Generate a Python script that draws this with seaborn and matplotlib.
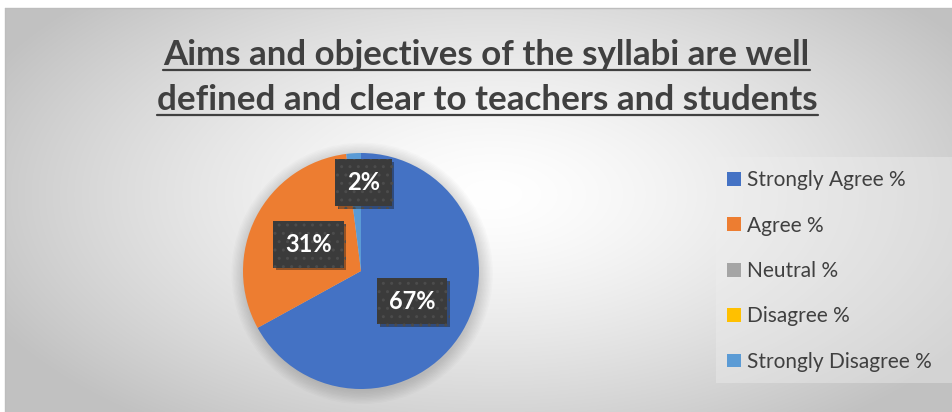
import numpy as np
import matplotlib.pyplot as plt
import matplotlib.patheffects as pe
from matplotlib.patches import Rectangle, Patch, Circle
from matplotlib.lines import Line2D
import seaborn as sns

# data
categories = ['Strongly Agree %', 'Agree %', 'Neutral %', 'Disagree %', 'Strongly Disagree %']
values = [67, 31, 0, 0, 2]
colors = ['#4472C4', '#ED7D31', '#A5A5A5', '#FFC000', '#5B9BD5']
title_lines = ['Aims and objectives of the syllabi are well',
               'defined and clear to teachers and students']

sns.set_theme(style='white')
plt.rcParams['font.family'] = ['Lato', 'DejaVu Sans']

W, H = 952, 412
fig = plt.figure(figsize=(W / 100, H / 100), dpi=100)
fig.patch.set_facecolor('white')

# background: radial grey gradient of the chart area
bg = fig.add_axes([0, 0, 1, 1])
bg.set_xlim(0, W)
bg.set_ylim(H, 0)
bg.axis('off')
yy, xx = np.mgrid[0:H, 0:W]
r = np.sqrt(((xx - 490) / 560.0) ** 2 + ((yy - 190) / 290.0) ** 2)
t = np.clip(r, 0, 1) ** 1.4
g = 1.0 - t * (1.0 - 0.76)
bg.imshow(np.dstack([g, g, g]), extent=[5, W, H, 8], zorder=0, interpolation='bilinear')
bg.add_line(Line2D([5, W], [8, 8], color='#bdbdbd', lw=1, zorder=1))
bg.add_line(Line2D([5, 5], [8, H], color='#bdbdbd', lw=1, zorder=1))

# legend box
bg.add_patch(Rectangle((716, 157), W - 716, 226, facecolor='#efefef', alpha=0.4,
                       edgecolor='none', zorder=2))

# pie
cx, cy, rad = 361, 271, 118
ax = fig.add_axes([(cx - rad) / W, (H - cy - rad) / H, 2 * rad / W, 2 * rad / H])
ax.set_facecolor('none')
for k in range(10):
    ax.add_patch(Circle((0.01, -0.02), 1.0 + 0.012 * k, facecolor='black', clip_on=False,
                        alpha=0.016, edgecolor='none', zorder=0))
wedges, _, autotexts = ax.pie(values, colors=colors, startangle=90, counterclock=False,
                              autopct=lambda p: f'{p:.0f}%' if p >= 0.5 else '',
                              pctdistance=0.5, wedgeprops=dict(linewidth=0),
                              textprops=dict(color='white', fontsize=17, fontweight='bold'))
for w in wedges:
    w.set_zorder(2)
ax.set_xlim(-1, 1)
ax.set_ylim(-1, 1)
ax.set_aspect('auto')
ax.axis('off')

# the small slice label sits further out
autotexts[4].set_position((0.02, 0.75))
for txt in autotexts:
    if not txt.get_text():
        continue
    txt.set_zorder(5)
    txt.set_bbox(dict(boxstyle='square,pad=0.5', facecolor='#3b3b3b',
                      edgecolor='#4c4c4c', hatch='..', linewidth=0))
    txt.get_bbox_patch().set_path_effects([pe.SimplePatchShadow(offset=(2, -2), alpha=0.4),
                                           pe.Normal()])

# title (underlined)
title_y = [55, 100]
targets = [(163, 810), (158, 817)]
fig.canvas.draw()
renderer = fig.canvas.get_renderer()
for line, yc, (x0, x1) in zip(title_lines, title_y, targets):
    tt = fig.text((x0 + x1) / 2 / W, 1 - yc / H, line, ha='center', va='center',
                  fontsize=22, fontweight='bold', color='#404040')
    bb = tt.get_window_extent(renderer)
    tt.set_fontsize(22 * (x1 - x0) / bb.width)
    fig.canvas.draw()
    bb = tt.get_window_extent(renderer)
    uy = bb.y0 + 1
    fig.add_artist(Line2D([bb.x0 / W, bb.x1 / W], [uy / H, uy / H], color='#404040',
                          lw=1.6, transform=fig.transFigure))

# legend
handles = [Patch(facecolor=c, edgecolor='none') for c in colors]
leg = fig.legend(handles, categories, loc='center left',
                 bbox_to_anchor=(727 / W, 1 - 271 / H), frameon=False,
                 fontsize=15, handlelength=0.65, handleheight=0.65, handletextpad=0.3,
                 labelspacing=1.22, borderaxespad=0, borderpad=0)
for txt in leg.get_texts():
    txt.set_color('#404040')

fig.savefig('out.png', dpi=100)
